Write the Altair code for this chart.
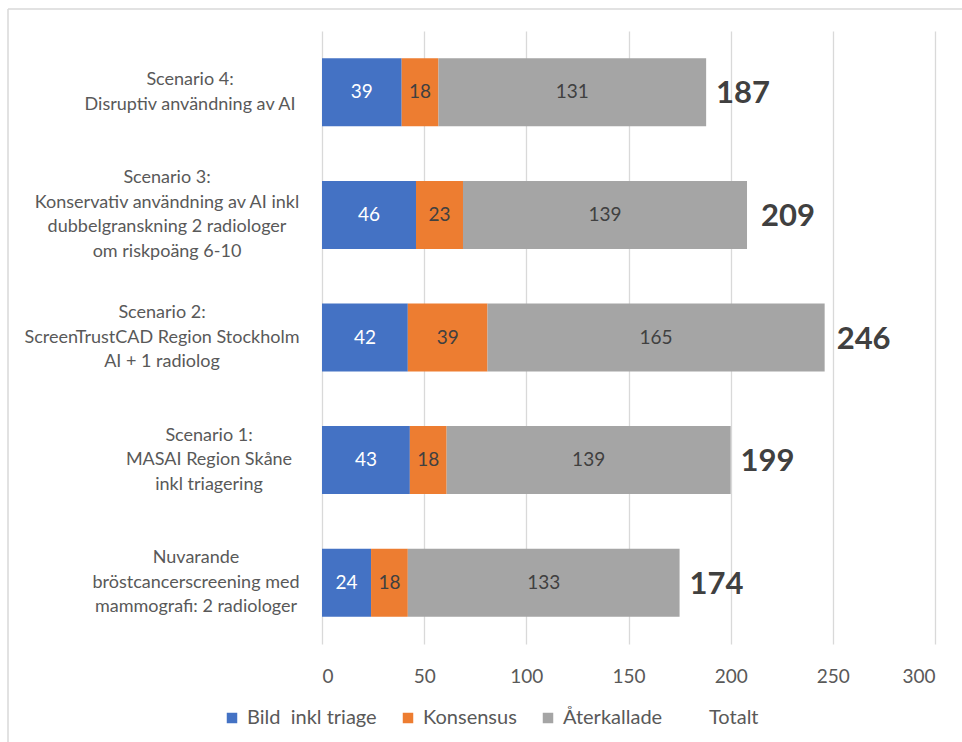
import altair as alt
import pandas as pd

# ---- data ----
categories = [
    "Scenario 4:|Disruptiv användning av AI",
    "Scenario 3:|Konservativ användning av AI inkl|dubbelgranskning 2 radiologer|om riskpoäng 6-10",
    "Scenario 2:|ScreenTrustCAD Region Stockholm|AI + 1 radiolog",
    "Scenario 1:|MASAI Region Skåne|inkl triagering",
    "Nuvarande|bröstcancerscreening med|mammografi: 2 radiologer",
]
series = ["Bild\u00a0 inkl triage", "Konsensus", "Återkallade"]
bild = [39, 46, 42, 43, 24]
konsensus = [18, 23, 39, 18, 18]
aterkallade = [131, 139, 165, 139, 133]
totalt = [187, 209, 246, 199, 174]
x_ticks = [0, 50, 100, 150, 200, 250, 300]

colors = ["#4472C4", "#ED7D31", "#A5A5A5"]

rows = []
for i, cat in enumerate(categories):
    start = 0
    for s, vals in zip(series, [bild, konsensus, aterkallade]):
        v = vals[i]
        rows.append({"cat": cat, "idx": i, "series": s, "value": v,
                     "start": start, "end": start + v, "total": totalt[i]})
        start += v
df = pd.DataFrame(rows)

FONT = "Lato"
TXT = "#595959"
LH = 24.5

yenc = alt.Y("cat:N", sort=categories, axis=None,
             scale=alt.Scale(paddingInner=0.445, paddingOuter=0.2225))

base = alt.Chart(df)

bars = base.mark_bar().encode(
    x=alt.X("start:Q", scale=alt.Scale(domain=[0, 300], nice=False),
            axis=alt.Axis(values=x_ticks, title=None, domain=False, ticks=False,
                          labelPadding=23, labelFontSize=19, labelColor=TXT,
                          labelFont=FONT, gridColor="#d9d9d9", gridWidth=1.3)),
    x2="end:Q",
    y=yenc,
    color=alt.Color("series:N",
                    scale=alt.Scale(domain=series + ["Totalt"],
                                    range=colors + ["transparent"]),
                    legend=alt.Legend(title=None, orient="none", legendX=-100,
                                      legendY=677, direction="horizontal",
                                      symbolType="square", symbolSize=110,
                                      symbolStrokeWidth=0, labelFontSize=20,
                                      labelColor=TXT, labelFont=FONT,
                                      labelOffset=5, columnPadding=21)),
)

seg_labels = base.mark_text(fontSize=19, font=FONT, baseline="middle",
                            align="center").encode(
    x=alt.X("mid:Q"),
    y=yenc,
    text=alt.Text("value:Q"),
    color=alt.condition(alt.datum.series == series[0], alt.value("white"),
                        alt.value("#404040")),
).transform_calculate(mid="(datum.start + datum.end) / 2")

total_labels = base.transform_filter(alt.datum.series == series[-1]).mark_text(
    fontSize=31, font=FONT, fontWeight="bold", align="left", baseline="middle",
    dx=12, dy=2, color="#404040").encode(
    x=alt.X("total:Q"),
    y=yenc,
    text=alt.Text("total:Q"),
)

cat_labels = base.transform_filter(alt.datum.series == series[0]).transform_calculate(
    lines="split(datum.cat, '|')"
).mark_text(
    fontSize=18, font=FONT, align="center", baseline="middle", lineHeight=LH,
    color=TXT,
    dx=alt.ExprRef(expr="datum.idx == 0 ? -132 : datum.idx == 1 ? -155 : datum.idx == 2 ? -160 : datum.idx == 3 ? -113 : -126"),
    dy=alt.ExprRef(expr=f"-(length(datum.lines) - 1) * {LH / 2}"),
).encode(
    x=alt.value(0),
    y=yenc,
    text=alt.Text("lines:N"),
)

frame_df = pd.DataFrame({"a": [0]})
frame_top = alt.Chart(frame_df).mark_rule(color="#d9d9d9", strokeWidth=1.5).encode(
    x=alt.value(-314), x2=alt.value(700), y=alt.value(-22))
frame_left = alt.Chart(frame_df).mark_rule(color="#d9d9d9", strokeWidth=1.5).encode(
    x=alt.value(-314), y=alt.value(-22), y2=alt.value(740))

chart = alt.layer(frame_top, frame_left, bars, seg_labels, total_labels, cat_labels).properties(
    width=613, height=613,
    autosize=alt.AutoSizeParams(type="none"),
    padding={"left": 322, "top": 31, "right": 27, "bottom": 98},
    background="white",
).configure_view(stroke="transparent")

chart.save("out.html", embed_options={"renderer": "svg", "actions": False})
